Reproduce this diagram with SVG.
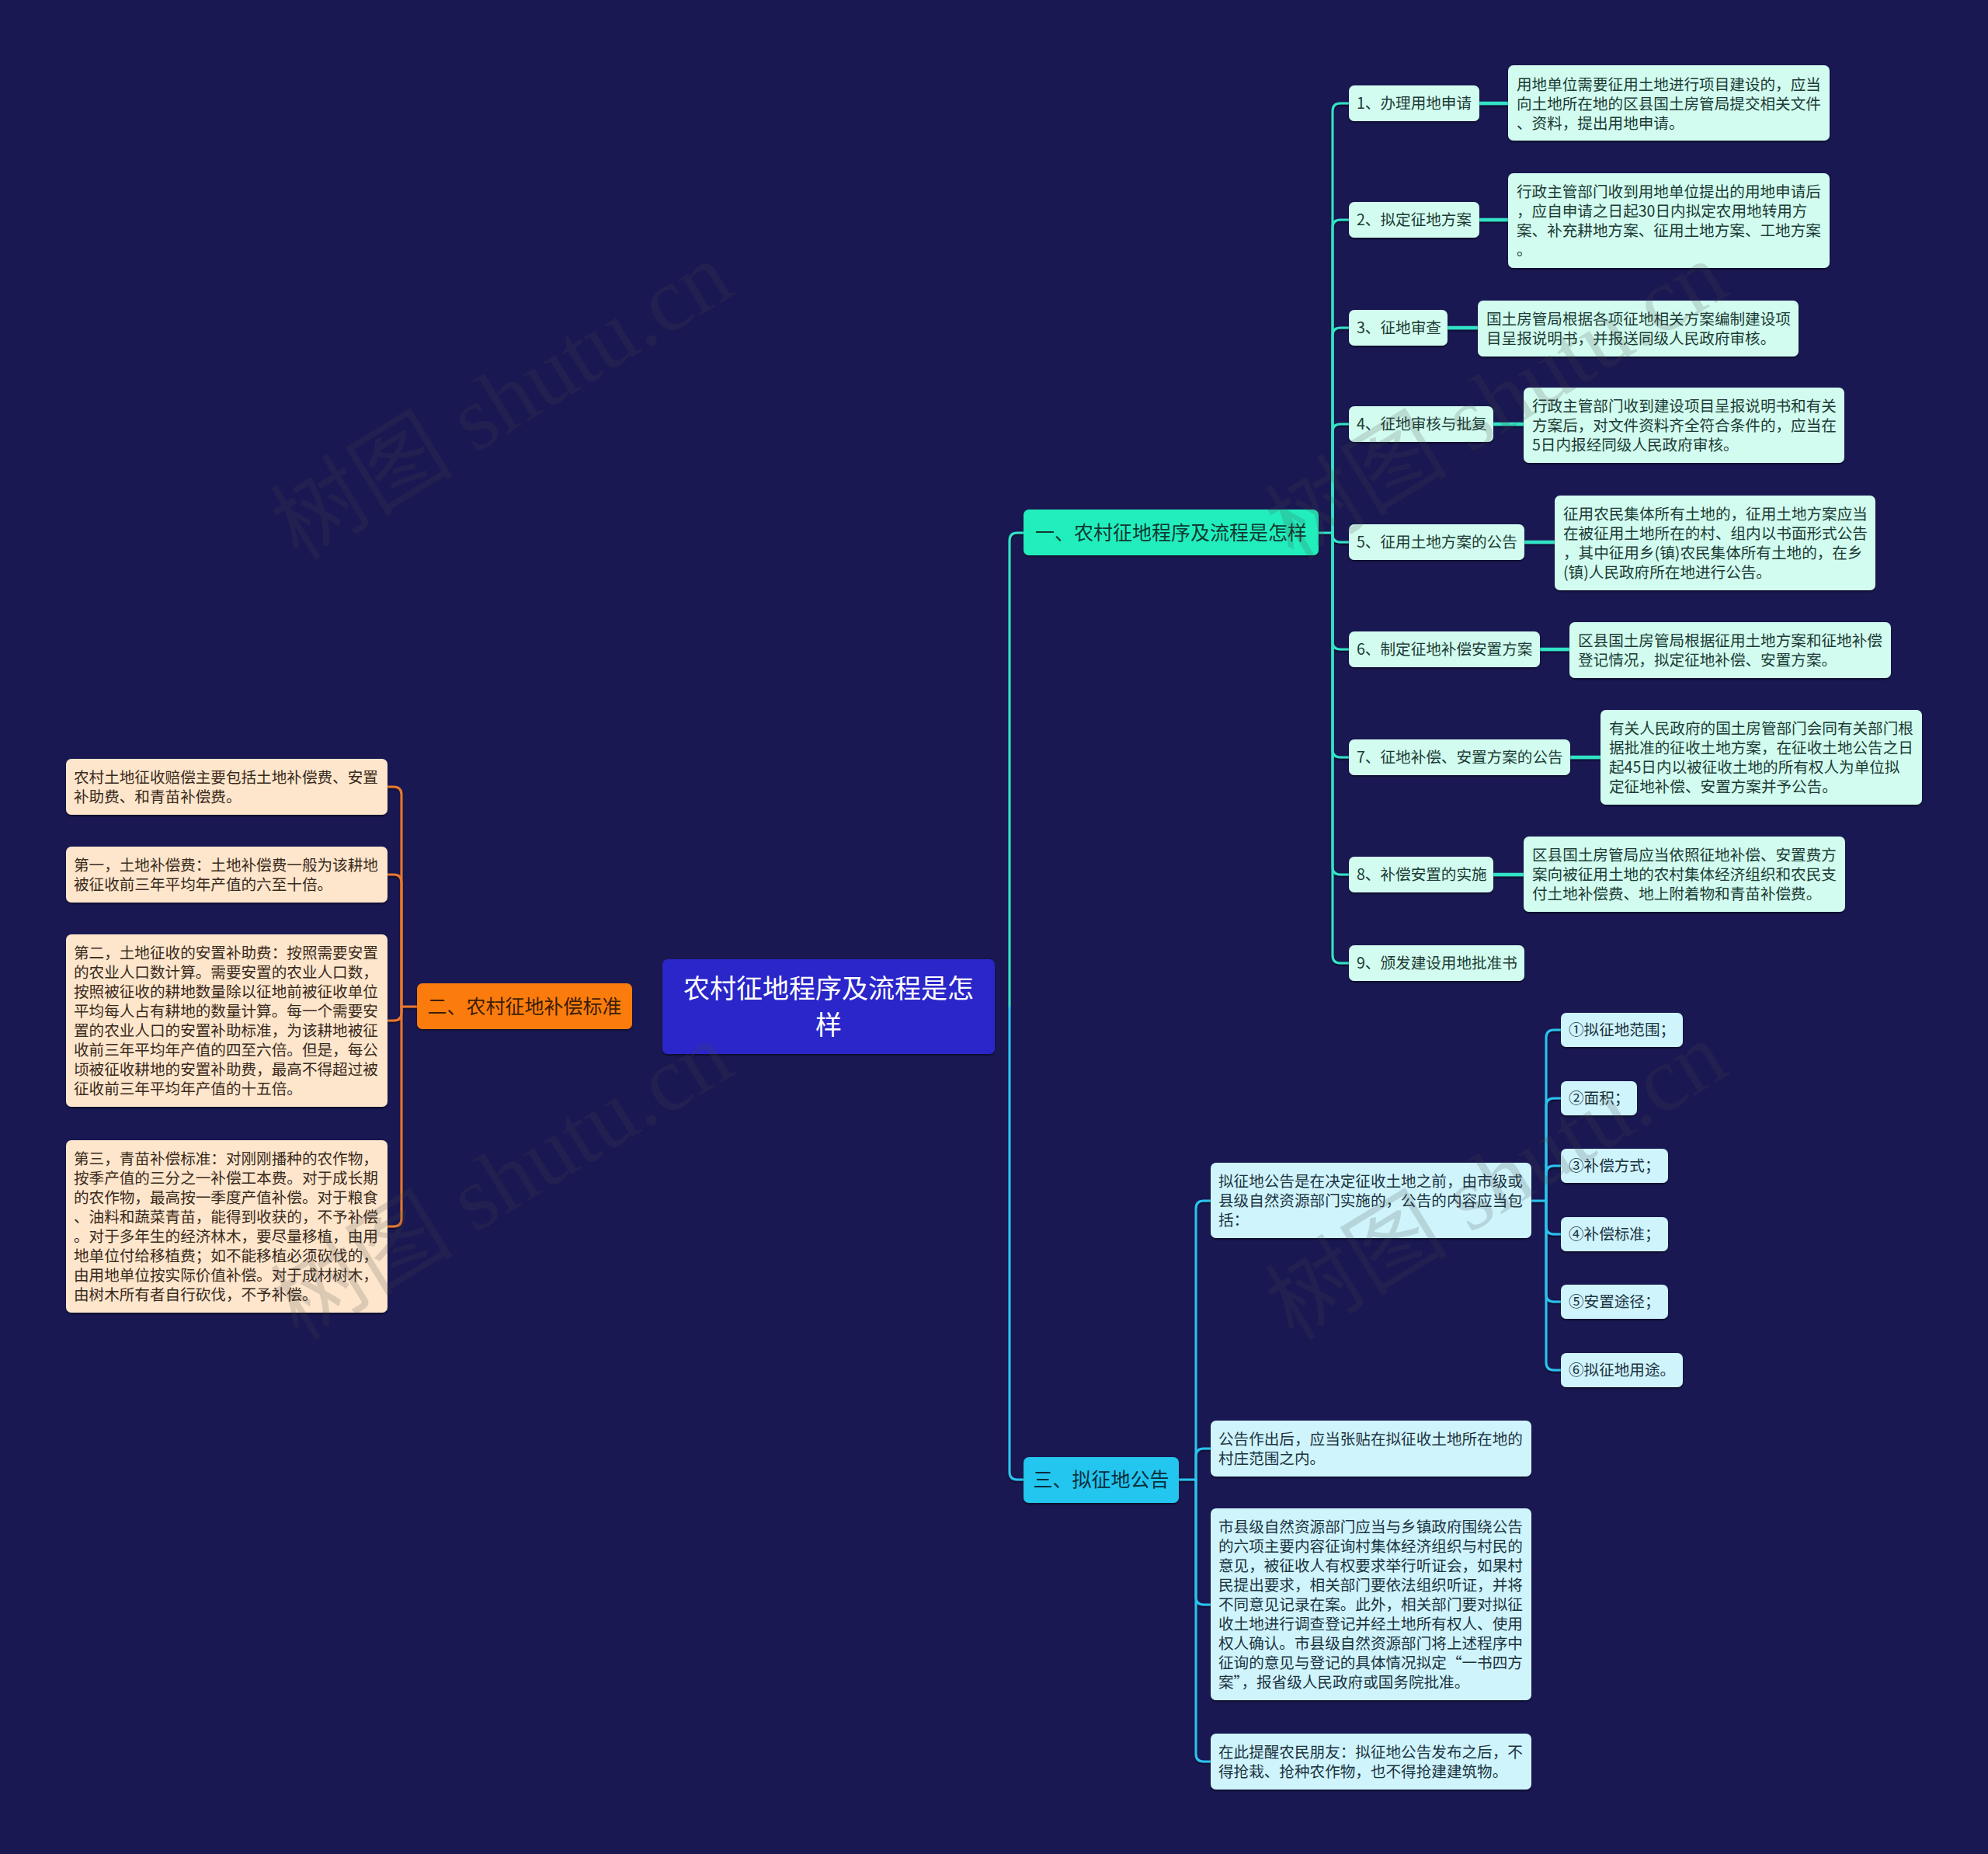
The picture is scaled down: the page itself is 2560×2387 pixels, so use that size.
<svg xmlns="http://www.w3.org/2000/svg" width="2560" height="2387" viewBox="0 0 2560 2387">
<defs>
<filter id="sh" x="-5%" y="-10%" width="110%" height="130%">
<feDropShadow dx="0" dy="2" stdDeviation="1.2" flood-color="#000" flood-opacity="0.45"/>
</filter>
<style>
text{font-family:"Noto Sans CJK SC","Microsoft YaHei",sans-serif;}
.t{font-size:19.6px;}
.root rect{fill:#2a27c9;}
.root text{fill:#ffffff;font-size:34px;text-anchor:middle;}
.b1 rect{fill:#22eebd;}
.b1 text{fill:#0f3a32;font-size:25px;text-anchor:middle;}
.b2 rect{fill:#fb7b0c;}
.b2 text{fill:#3c1e06;font-size:25px;text-anchor:middle;}
.b3 rect{fill:#20c6ee;}
.b3 text{fill:#0b2c3c;font-size:25px;text-anchor:middle;}
.n1 rect{fill:#d2fcef;}
.n1 text{fill:#1c3b35;}
.n3 rect{fill:#cff4fc;}
.n3 text{fill:#1c3340;}
.nl rect{fill:#fde6cc;}
.nl text{fill:#3a2a1c;}
.c-teal{stroke:#33e3c6;}
.c-cyan{stroke:#2cc3ee;}
.c-or{stroke:#e8782e;}
.conn path{fill:none;stroke-width:3;stroke-linecap:round;}
.conn path.thick{stroke-width:4.5;stroke-linecap:butt;}
.wm{font-family:"Liberation Serif","Noto Sans CJK SC",serif;font-size:118px;fill:#4a4a4a;fill-opacity:0.18;text-anchor:middle;}
</style>
</defs>
<rect x="0" y="0" width="2560" height="2387" fill="#191852"/>

<g id="connectors" class="conn" filter="url(#sh)">
<path class="c-or" d="M537,1296 H517"/>
<path class="c-or" d="M517,1296 V1023 Q517,1013 507,1013 H499"/>
<path class="c-or" d="M517,1296 V1136 Q517,1126 507,1126 H499"/>
<path class="c-or" d="M517,1296 V1304 Q517,1314 507,1314 H499"/>
<path class="c-or" d="M517,1296 V1569 Q517,1579 507,1579 H499"/>
<path class="c-teal" d="M1300,1296 V696 Q1300,686 1310,686 H1318"/>
<path class="c-cyan" d="M1300,1296 V1895 Q1300,1905 1310,1905 H1318"/>
<path class="c-teal" d="M1697,686 H1716"/>
<path class="c-teal" d="M1716,686 V143 Q1716,133 1726,133 H1737"/>
<path class="c-teal" d="M1716,686 V293 Q1716,283 1726,283 H1737"/>
<path class="c-teal" d="M1716,686 V432 Q1716,422 1726,422 H1737"/>
<path class="c-teal" d="M1716,686 V556 Q1716,546 1726,546 H1737"/>
<path class="c-teal" d="M1716,686 V688 Q1716,698 1726,698 H1737"/>
<path class="c-teal" d="M1716,686 V826 Q1716,836 1726,836 H1737"/>
<path class="c-teal" d="M1716,686 V965 Q1716,975 1726,975 H1737"/>
<path class="c-teal" d="M1716,686 V1116 Q1716,1126 1726,1126 H1737"/>
<path class="c-teal" d="M1716,686 V1230 Q1716,1240 1726,1240 H1737"/>
<path class="c-teal thick" d="M1905,133 H1942"/>
<path class="c-teal thick" d="M1905,283 H1942"/>
<path class="c-teal thick" d="M1864,422 H1903"/>
<path class="c-teal thick" d="M1923,546 H1962"/>
<path class="c-teal thick" d="M1963,698 H2002"/>
<path class="c-teal thick" d="M1983,836 H2021"/>
<path class="c-teal thick" d="M2022,975 H2061"/>
<path class="c-teal thick" d="M1923,1126 H1962"/>
<path class="c-cyan" d="M1518,1905 H1540"/>
<path class="c-cyan" d="M1540,1905 V1556 Q1540,1546 1550,1546 H1559"/>
<path class="c-cyan" d="M1540,1905 V1875 Q1540,1865 1550,1865 H1559"/>
<path class="c-cyan" d="M1540,1905 V2056 Q1540,2066 1550,2066 H1559"/>
<path class="c-cyan" d="M1540,1905 V2258 Q1540,2268 1550,2268 H1559"/>
<path class="c-cyan" d="M1972,1546 H1991"/>
<path class="c-cyan" d="M1991,1546 V1336 Q1991,1326 2001,1326 H2010"/>
<path class="c-cyan" d="M1991,1546 V1424 Q1991,1414 2001,1414 H2010"/>
<path class="c-cyan" d="M1991,1546 V1511 Q1991,1501 2001,1501 H2010"/>
<path class="c-cyan" d="M1991,1546 V1579 Q1991,1589 2001,1589 H2010"/>
<path class="c-cyan" d="M1991,1546 V1666 Q1991,1676 2001,1676 H2010"/>
<path class="c-cyan" d="M1991,1546 V1754 Q1991,1764 2001,1764 H2010"/>
</g>

<g id="root" class="root">
<rect x="853" y="1235" width="428" height="122" rx="7" filter="url(#sh)"/>
<text x="1067" y="1285">农村征地程序及流程是怎</text>
<text x="1067" y="1332">样</text>
</g>
<g id="root-links" class="conn" filter="url(#sh)">
<path class="c-or" d="M814,1296 H1281"/>
<path class="c-teal" d="M1281,1296 H1300"/>
</g>

<g id="branch1" class="b1"><rect x="1318" y="656" width="380" height="59" rx="7" filter="url(#sh)"/><text x="1508" y="695">一、农村征地程序及流程是怎样</text></g>
<g id="branch2" class="b2"><rect x="537" y="1266" width="277" height="59" rx="7" filter="url(#sh)"/><text x="675.5" y="1305">二、农村征地补偿标准</text></g>
<g id="branch3" class="b3"><rect x="1318" y="1876" width="200" height="59" rx="7" filter="url(#sh)"/><text x="1418" y="1914">三、拟征地公告</text></g>

<g id="n1" class="n1 t"><rect x="1737" y="110" width="168" height="46" rx="7" filter="url(#sh)"/><text x="1747" y="140">1、办理用地申请</text></g>
<g id="n2" class="n1 t"><rect x="1737" y="260" width="168" height="46" rx="7" filter="url(#sh)"/><text x="1747" y="290">2、拟定征地方案</text></g>
<g id="n3" class="n1 t"><rect x="1737" y="399" width="127" height="46" rx="7" filter="url(#sh)"/><text x="1747" y="429">3、征地审查</text></g>
<g id="n4" class="n1 t"><rect x="1737" y="523" width="186" height="46" rx="7" filter="url(#sh)"/><text x="1747" y="553">4、征地审核与批复</text></g>
<g id="n5" class="n1 t"><rect x="1737" y="675" width="226" height="46" rx="7" filter="url(#sh)"/><text x="1747" y="705">5、征用土地方案的公告</text></g>
<g id="n6" class="n1 t"><rect x="1737" y="813" width="246" height="46" rx="7" filter="url(#sh)"/><text x="1747" y="843">6、制定征地补偿安置方案</text></g>
<g id="n7" class="n1 t"><rect x="1737" y="952" width="285" height="46" rx="7" filter="url(#sh)"/><text x="1747" y="982">7、征地补偿、安置方案的公告</text></g>
<g id="n8" class="n1 t"><rect x="1737" y="1103" width="186" height="46" rx="7" filter="url(#sh)"/><text x="1747" y="1133">8、补偿安置的实施</text></g>
<g id="n9" class="n1 t"><rect x="1737" y="1217" width="226" height="46" rx="7" filter="url(#sh)"/><text x="1747" y="1247">9、颁发建设用地批准书</text></g>

<g id="d1" class="n1 t"><rect x="1942" y="84" width="414" height="97" rx="7" filter="url(#sh)"/>
<text x="1953" y="116">用地单位需要征用土地进行项目建设的，应当</text>
<text x="1953" y="141">向土地所在地的区县国土房管局提交相关文件</text>
<text x="1953" y="166">、资料，提出用地申请。</text></g>
<g id="d2" class="n1 t"><rect x="1942" y="223" width="414" height="122" rx="7" filter="url(#sh)"/>
<text x="1953" y="254">行政主管部门收到用地单位提出的用地申请后</text>
<text x="1953" y="279">，应自申请之日起30日内拟定农用地转用方</text>
<text x="1953" y="304">案、补充耕地方案、征用土地方案、工地方案</text>
<text x="1953" y="329">。</text></g>
<g id="d3" class="n1 t"><rect x="1903" y="387" width="413" height="72" rx="7" filter="url(#sh)"/>
<text x="1914" y="418">国土房管局根据各项征地相关方案编制建设项</text>
<text x="1914" y="443">目呈报说明书，并报送同级人民政府审核。</text></g>
<g id="d4" class="n1 t"><rect x="1962" y="499" width="413" height="97" rx="7" filter="url(#sh)"/>
<text x="1973" y="530">行政主管部门收到建设项目呈报说明书和有关</text>
<text x="1973" y="555">方案后，对文件资料齐全符合条件的，应当在</text>
<text x="1973" y="580">5日内报经同级人民政府审核。</text></g>
<g id="d5" class="n1 t"><rect x="2002" y="638" width="413" height="122" rx="7" filter="url(#sh)"/>
<text x="2013" y="669">征用农民集体所有土地的，征用土地方案应当</text>
<text x="2013" y="694">在被征用土地所在的村、组内以书面形式公告</text>
<text x="2013" y="719">，其中征用乡(镇)农民集体所有土地的，在乡</text>
<text x="2013" y="744">(镇)人民政府所在地进行公告。</text></g>
<g id="d6" class="n1 t"><rect x="2021" y="801" width="414" height="72" rx="7" filter="url(#sh)"/>
<text x="2032" y="832">区县国土房管局根据征用土地方案和征地补偿</text>
<text x="2032" y="857">登记情况，拟定征地补偿、安置方案。</text></g>
<g id="d7" class="n1 t"><rect x="2061" y="914" width="414" height="122" rx="7" filter="url(#sh)"/>
<text x="2072" y="945">有关人民政府的国土房管部门会同有关部门根</text>
<text x="2072" y="970">据批准的征收土地方案，在征收土地公告之日</text>
<text x="2072" y="995">起45日内以被征收土地的所有权人为单位拟</text>
<text x="2072" y="1020">定征地补偿、安置方案并予公告。</text></g>
<g id="d8" class="n1 t"><rect x="1962" y="1077" width="414" height="97" rx="7" filter="url(#sh)"/>
<text x="1973" y="1108">区县国土房管局应当依照征地补偿、安置费方</text>
<text x="1973" y="1133">案向被征用土地的农村集体经济组织和农民支</text>
<text x="1973" y="1158">付土地补偿费、地上附着物和青苗补偿费。</text></g>

<g id="l1" class="nl t"><rect x="85" y="977" width="414" height="72" rx="7" filter="url(#sh)"/>
<text x="95" y="1008">农村土地征收赔偿主要包括土地补偿费、安置</text>
<text x="95" y="1033">补助费、和青苗补偿费。</text></g>
<g id="l2" class="nl t"><rect x="85" y="1090" width="414" height="72" rx="7" filter="url(#sh)"/>
<text x="95" y="1121">第一，土地补偿费：土地补偿费一般为该耕地</text>
<text x="95" y="1146">被征收前三年平均年产值的六至十倍。</text></g>
<g id="l3" class="nl t"><rect x="85" y="1203" width="414" height="222" rx="7" filter="url(#sh)"/>
<text x="95" y="1234">第二，土地征收的安置补助费：按照需要安置</text>
<text x="95" y="1259">的农业人口数计算。需要安置的农业人口数，</text>
<text x="95" y="1284">按照被征收的耕地数量除以征地前被征收单位</text>
<text x="95" y="1309">平均每人占有耕地的数量计算。每一个需要安</text>
<text x="95" y="1334">置的农业人口的安置补助标准，为该耕地被征</text>
<text x="95" y="1359">收前三年平均年产值的四至六倍。但是，每公</text>
<text x="95" y="1384">顷被征收耕地的安置补助费，最高不得超过被</text>
<text x="95" y="1409">征收前三年平均年产值的十五倍。</text></g>
<g id="l4" class="nl t"><rect x="85" y="1468" width="414" height="222" rx="7" filter="url(#sh)"/>
<text x="95" y="1499">第三，青苗补偿标准：对刚刚播种的农作物，</text>
<text x="95" y="1524">按季产值的三分之一补偿工本费。对于成长期</text>
<text x="95" y="1549">的农作物，最高按一季度产值补偿。对于粮食</text>
<text x="95" y="1574">、油料和蔬菜青苗，能得到收获的，不予补偿</text>
<text x="95" y="1599">。对于多年生的经济林木，要尽量移植，由用</text>
<text x="95" y="1624">地单位付给移植费；如不能移植必须砍伐的，</text>
<text x="95" y="1649">由用地单位按实际价值补偿。对于成材树木，</text>
<text x="95" y="1674">由树木所有者自行砍伐，不予补偿。</text></g>

<g id="c1" class="n3 t"><rect x="1559" y="1497" width="413" height="97" rx="7" filter="url(#sh)"/>
<text x="1569" y="1528">拟征地公告是在决定征收土地之前，由市级或</text>
<text x="1569" y="1553">县级自然资源部门实施的，公告的内容应当包</text>
<text x="1569" y="1578">括：</text></g>
<g id="c2" class="n3 t"><rect x="1559" y="1829" width="413" height="72" rx="7" filter="url(#sh)"/>
<text x="1569" y="1860">公告作出后，应当张贴在拟征收土地所在地的</text>
<text x="1569" y="1885">村庄范围之内。</text></g>
<g id="c3" class="n3 t"><rect x="1559" y="1942" width="413" height="247" rx="7" filter="url(#sh)"/>
<text x="1569" y="1973">市县级自然资源部门应当与乡镇政府围绕公告</text>
<text x="1569" y="1998">的六项主要内容征询村集体经济组织与村民的</text>
<text x="1569" y="2023">意见，被征收人有权要求举行听证会，如果村</text>
<text x="1569" y="2048">民提出要求，相关部门要依法组织听证，并将</text>
<text x="1569" y="2073">不同意见记录在案。此外，相关部门要对拟征</text>
<text x="1569" y="2098">收土地进行调查登记并经土地所有权人、使用</text>
<text x="1569" y="2123">权人确认。市县级自然资源部门将上述程序中</text>
<text x="1569" y="2148">征询的意见与登记的具体情况拟定“一书四方</text>
<text x="1569" y="2173">案”，报省级人民政府或国务院批准。</text></g>
<g id="c4" class="n3 t"><rect x="1559" y="2232" width="413" height="72" rx="7" filter="url(#sh)"/>
<text x="1569" y="2263">在此提醒农民朋友：拟征地公告发布之后，不</text>
<text x="1569" y="2288">得抢栽、抢种农作物，也不得抢建建筑物。</text></g>

<g id="s1" class="n3 t"><rect x="2010" y="1304" width="157" height="44" rx="7" filter="url(#sh)"/><text x="2020" y="1333">①拟征地范围；</text></g>
<g id="s2" class="n3 t"><rect x="2010" y="1392" width="98" height="44" rx="7" filter="url(#sh)"/><text x="2020" y="1421">②面积；</text></g>
<g id="s3" class="n3 t"><rect x="2010" y="1479" width="138" height="44" rx="7" filter="url(#sh)"/><text x="2020" y="1508">③补偿方式；</text></g>
<g id="s4" class="n3 t"><rect x="2010" y="1567" width="138" height="44" rx="7" filter="url(#sh)"/><text x="2020" y="1596">④补偿标准；</text></g>
<g id="s5" class="n3 t"><rect x="2010" y="1654" width="138" height="44" rx="7" filter="url(#sh)"/><text x="2020" y="1683">⑤安置途径；</text></g>
<g id="s6" class="n3 t"><rect x="2010" y="1742" width="157" height="44" rx="7" filter="url(#sh)"/><text x="2020" y="1771">⑥拟征地用途。</text></g>

<g id="watermarks">
<text class="wm" transform="translate(646,516) rotate(-31.5)" y="40">树图 shutu.cn</text>
<text class="wm" transform="translate(1927,516) rotate(-31.5)" y="40">树图 shutu.cn</text>
<text class="wm" transform="translate(646,1520) rotate(-31.5)" y="40">树图 shutu.cn</text>
<text class="wm" transform="translate(1927,1520) rotate(-31.5)" y="40">树图 shutu.cn</text>
</g>
</svg>
